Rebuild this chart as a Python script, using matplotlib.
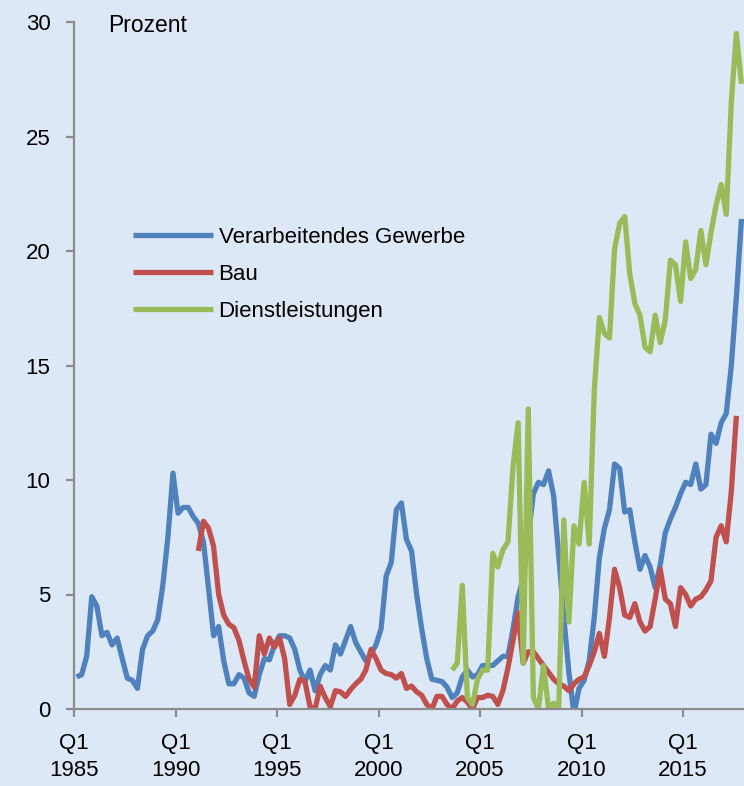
import matplotlib
matplotlib.use("Agg")
import matplotlib.pyplot as plt
import numpy as np

# ---- data (quarterly, Q1 1985 = index 0) ----
start_year = 1985
verarbeitendes = [
    1.4, 1.5, 2.3, 4.9, 4.5, 3.2, 3.35, 2.8, 3.1, 2.2,
    1.35, 1.25, 0.9, 2.6, 3.2, 3.4, 3.9, 5.4, 7.5, 10.3,
    8.55, 8.8, 8.8, 8.4, 8.1, 7.3, 5.3, 3.2, 3.6, 2.1,
    1.1, 1.1, 1.5, 1.35, 0.7, 0.55, 1.5, 2.2, 2.15, 2.8,
    3.2, 3.2, 3.1, 2.6, 1.7, 1.2, 1.7, 0.8, 1.5, 1.9,
    1.7, 2.8, 2.4, 3.0, 3.6, 2.9, 2.5, 2.1, 2.4, 2.8,
    3.5, 5.8, 6.4, 8.7, 9.0, 7.4, 6.9, 5.0, 3.5, 2.2,
    1.3, 1.25, 1.2, 0.95, 0.5, 0.7, 1.4, 1.7, 1.4, 1.5,
    1.9, 1.9, 1.9, 2.1, 2.3, 2.3, 3.5, 4.9, 5.7, 7.5,
    9.4, 9.9, 9.8, 10.4, 9.3, 6.7, 4.0, 1.6, -0.2, 0.9,
    1.25, 2.1, 4.0, 6.6, 7.9, 8.7, 10.7, 10.5, 8.6, 8.7,
    7.3, 6.1, 6.7, 6.2, 5.3, 6.3, 7.7, 8.3, 8.8, 9.4,
    9.9, 9.8, 10.7, 9.6, 9.8, 12.0, 11.6, 12.5, 12.9, 15.0, 18.0, 21.4,
]
bau_start = 24  # Q1 1991
bau = [
    6.9, 8.2, 7.9, 7.1, 5.0, 4.1,
    3.7, 3.55, 3.0, 2.1, 1.3, 0.95, 3.2, 2.4, 3.1, 2.7,
    3.1, 2.2, 0.2, 0.6, 1.3, 1.2, 0.1, 0.0, 1.0, 0.5,
    0.1, 0.8, 0.75, 0.55, 0.85, 1.1, 1.3, 1.7, 2.6, 2.2,
    1.7, 1.55, 1.5, 1.35, 1.55, 0.9, 1.0, 0.75, 0.6, 0.2,
    0.0, 0.55, 0.55, 0.2, 0.0, 0.35, 0.5, 0.3, 0.0, 0.5,
    0.5, 0.6, 0.55, 0.2, 0.8, 1.8, 3.0, 4.2, 2.0, 2.5,
    2.5, 2.2, 1.9, 1.6, 1.3, 1.1, 1.0, 0.8, 1.1, 1.3,
    1.4, 1.9, 2.5, 3.3, 2.3, 4.0, 6.1, 5.3, 4.1, 4.0,
    4.6, 3.8, 3.4, 3.6, 4.8, 6.1, 4.8, 4.6, 3.6, 5.3,
    5.0, 4.5, 4.8, 4.9, 5.2, 5.6, 7.5, 8.0, 7.3, 9.5, 12.8,
]
dienst_start = 74  # Q3 2003
dienst = [
    1.7, 2.0, 5.4, 0.5, 0.2, 1.3,
    1.7, 1.7, 6.8, 6.2, 6.95, 7.3, 10.6, 12.5, 2.0, 13.1,
    0.5, 0.0, 1.9, 0.0, 0.25, 0.0, 8.25, 3.8, 8.0, 7.2,
    9.9, 7.2, 13.9, 17.1, 16.4, 16.2, 20.1, 21.2, 21.5, 19.0,
    17.7, 17.2, 15.8, 15.6, 17.2, 16.0, 17.0, 19.6, 19.4, 17.8,
    20.4, 18.8, 19.2, 20.9, 19.4, 20.8, 22.0, 22.9, 21.6, 26.5, 29.5, 27.3,
]
series_labels = ["Verarbeitendes Gewerbe", "Bau", "Dienstleistungen"]
series_colors = ["#4F81BD", "#C0504D", "#9BBB59"]
tick_years = [1985, 1990, 1995, 2000, 2005, 2010, 2015]
y_ticks = [0, 5, 10, 15, 20, 25, 30]


def qx(start, n):
    return start_year + (start + np.arange(n) + 0.5) / 4.0


plt.rcParams["font.family"] = ["Liberation Sans", "DejaVu Sans"]
bg = "#dce8f6"
fig = plt.figure(figsize=(7.44, 7.86), dpi=100, facecolor=bg)
ax = fig.add_axes([74 / 744, 77 / 786, 670 / 744, 687 / 786])
ax.set_facecolor(bg)

lines = []
for (start, vals), lab, col in zip(
    [(0, verarbeitendes), (bau_start, bau), (dienst_start, dienst)],
    series_labels, series_colors):
    ln, = ax.plot(qx(start, len(vals)), vals, color=col, lw=3.8, label=lab,
                  solid_joinstyle="round", solid_capstyle="butt")
    lines.append(ln)

ax.set_xlim(1985, 2018)
ax.set_ylim(0, 30)
ax.set_yticks(y_ticks)
ax.set_xticks(tick_years)
ax.set_xticklabels([f"Q1\n{y}" for y in tick_years], linespacing=1.4)
for s in ["top", "right"]:
    ax.spines[s].set_visible(False)
for s in ["left", "bottom"]:
    ax.spines[s].set_color("#8c8c8c")
    ax.spines[s].set_linewidth(1.6)
ax.tick_params(axis="both", colors="#8c8c8c", labelcolor="black",
               labelsize=16, length=6, width=1.6, direction="out")
ax.tick_params(axis="y", pad=11)
ax.tick_params(axis="x", pad=11)

fig.text(108 / 744, 1 - 25 / 786, "Prozent", fontsize=16.5, va="center", ha="left")

ax.legend(handles=lines, loc="upper left",
          bbox_to_anchor=(133 / 744, 1 - 227 / 786), bbox_transform=fig.transFigure,
          frameon=False, fontsize=16, handlelength=3.6, handletextpad=0.25,
          labelspacing=0.72, borderpad=0, borderaxespad=0)

fig.savefig("out.png", dpi=100, facecolor=bg)
